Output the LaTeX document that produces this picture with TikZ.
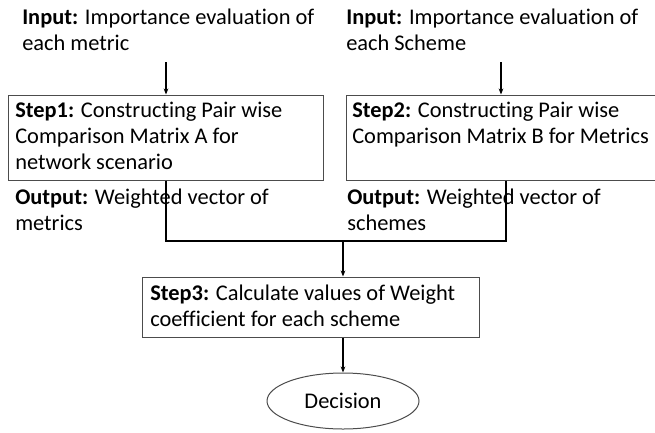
\documentclass[tikz,border=0pt]{standalone}
\usepackage{fontspec}
\setmainfont{Carlito}[Ligatures=NoCommon]
\usetikzlibrary{arrows.meta,shapes.geometric}
\begin{document}
\begin{tikzpicture}[x=0.75pt,y=-0.75pt,
  font=\fontsize{16.8}{19.5}\selectfont,
  txt/.style={inner sep=0pt, anchor=base west, align=left},
  stepbox/.style={draw=black!70, line width=0.75pt, rectangle, inner sep=0pt},
  arr/.style={draw=black, line width=0.8pt, -{Stealth[length=4.5pt,width=3.5pt]}},
  joinline/.style={draw=black, line width=1.3pt},
]
\useasboundingbox (0,0) rectangle (655,432);
% input texts (anchored at the baseline of their last line)
\node[txt] (in1) at (22,50) {\textbf{Input:} Importance evaluation of\\each metric};
\node[txt] (in2) at (346,50) {\textbf{Input:} Importance evaluation of\\each Scheme};
% step boxes
\node[stepbox, minimum width=315*0.75pt, minimum height=85*0.75pt] (box1) at (165.5,137.5) {};
\node[stepbox, minimum width=310*0.75pt, minimum height=85*0.75pt] (box2) at (501,137.5) {};
\node[stepbox, minimum width=337*0.75pt, minimum height=60*0.75pt] (box3) at (310.5,307) {};
\node[txt] (t1) at (15,169) {\textbf{Step1:} Constructing Pair wise\\Comparison Matrix A for\\network scenario};
\node[txt] (t2) at (352,143) {\textbf{Step2:} Constructing Pair wise\\Comparison Matrix B for Metrics};
\node[txt] (t3) at (150,326) {\textbf{Step3:} Calculate values of Weight\\coefficient for each scheme};
% outputs
\node[txt] (o1) at (15,230) {\textbf{Output:} Weighted vector of\\metrics};
\node[txt] (o2) at (347,230) {\textbf{Output:} Weighted vector of\\schemes};
% decision
\node[ellipse, draw=black!70, line width=0.75pt, minimum width=152*0.75pt, minimum height=56*0.75pt, inner sep=0pt] (dec) at (343,401) {Decision};
% coordinates
\coordinate (a1) at (166,62);
\coordinate (a2) at (501,62);
\coordinate (j1) at (166,241);
\coordinate (j2) at (506,241);
\coordinate (jm) at (343,241);
% connectors
\draw[arr] (a1) -- (box1.north -| a1);
\draw[arr] (a2) -- (box2.north -| a2);
\draw[joinline] (box1.south -| j1) -- (j1) -- (j2) -- (box2.south -| j2);
\draw[arr] (jm) -- (box3.north -| jm);
\draw[arr] (box3.south -| jm) -- (dec.north -| jm);
\end{tikzpicture}
\end{document}
